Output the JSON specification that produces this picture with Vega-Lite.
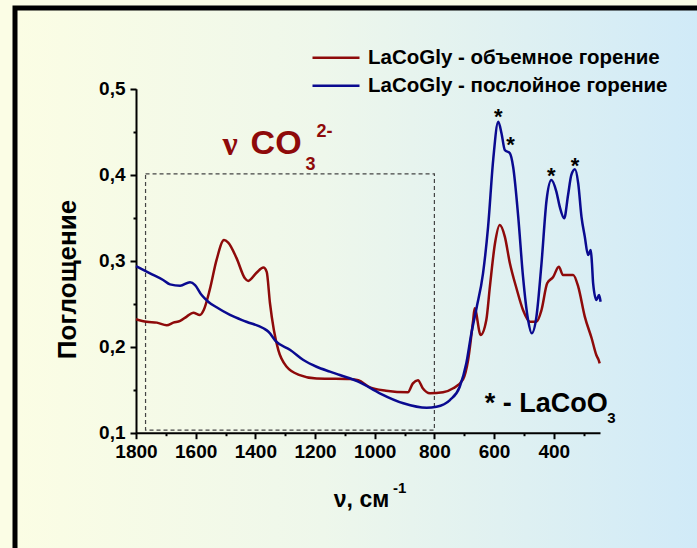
{
  "$schema": "https://vega.github.io/schema/vega-lite/v6.json",
  "width": 687,
  "height": 545,
  "autosize": {"type": "none"},
  "padding": {"left": 15, "top": 8, "right": -5, "bottom": -5},
  "background": "#fbfde5",
  "view": {
    "fill": {"gradient": "linear", "x1": 0, "y1": 0, "x2": 1, "y2": 0,
      "stops": [{"offset": 0, "color": "#fbfde4"}, {"offset": 0.45, "color": "#eef7eb"}, {"offset": 1, "color": "#d0eaf8"}]},
    "stroke": "black",
    "strokeWidth": 5
  },
  "config": {
    "font": "Liberation Sans",
    "axis": {
      "domainColor": "black", "domainWidth": 2, "tickColor": "black", "tickWidth": 2,
      "labelFont": "Liberation Sans", "labelFontWeight": "bold", "labelFontSize": 19, "labelColor": "black",
      "titleFont": "Liberation Sans", "titleFontWeight": "bold", "titleColor": "black", "grid": false,
      "labelOverlap": false, "labelFlush": false, "labelBound": false
    }
  },
  "encoding": {
    "x": {
      "field": "wavenumber", "type": "quantitative",
      "scale": {"domain": [1800, 245], "range": [121, 585], "nice": false, "zero": false},
      "axis": {
        "values": [1800, 1700, 1600, 1500, 1400, 1300, 1200, 1100, 1000, 900, 800, 700, 600, 500, 400, 300],
        "labelExpr": "datum.value % 200 === 0 ? format(datum.value, 'd') : ''",
        "tickSize": {"condition": {"test": "datum.value % 200 === 0", "value": 6}, "value": 3},
        "labelPadding": 4,
        "offset": -120.3,
        "title": "ν, см",
        "titleFontSize": 23,
        "titleX": 346,
        "titleY": 74,
        "titleAlign": "center",
        "titleBaseline": "alphabetic"
      }
    },
    "y": {
      "field": "absorbance", "type": "quantitative",
      "scale": {"domain": [0.1, 0.5], "range": [424.7, 80.7], "nice": false, "zero": false},
      "axis": {
        "values": [0.1, 0.15, 0.2, 0.25, 0.3, 0.35, 0.4, 0.45, 0.5],
        "labelExpr": "round(datum.value * 100) % 10 === 0 ? replace(format(datum.value, '.1f'), '.', ',') : ''",
        "tickSize": {"condition": {"test": "round(datum.value * 100) % 10 === 0", "value": 6}, "value": 3},
        "labelPadding": 5,
        "offset": -121,
        "title": "Поглощение",
        "titleFontSize": 26,
        "titleAngle": -90,
        "titleX": -61,
        "titleY": 271,
        "titleAlign": "center",
        "titleBaseline": "alphabetic"
      }
    }
  },
  "layer": [
    {
      "data": {"values": [{"wavenumber": 1768, "wavenumber2": 800, "absorbance": 0.103, "absorbance2": 0.401}]},
      "mark": {"type": "rect", "fill": null, "stroke": "#444444", "strokeWidth": 1.2, "strokeDash": [4, 3]},
      "encoding": {"x2": {"field": "wavenumber2"}, "y2": {"field": "absorbance2"}}
    },
    {
      "data": {"values": [
        {"sample": "LaCoGly - объемное горение", "wavenumber": 1800, "absorbance": 0.232},
        {"sample": "LaCoGly - объемное горение", "wavenumber": 1764, "absorbance": 0.229},
        {"sample": "LaCoGly - объемное горение", "wavenumber": 1730, "absorbance": 0.228},
        {"sample": "LaCoGly - объемное горение", "wavenumber": 1697, "absorbance": 0.225},
        {"sample": "LaCoGly - объемное горение", "wavenumber": 1675, "absorbance": 0.228},
        {"sample": "LaCoGly - объемное горение", "wavenumber": 1652, "absorbance": 0.23},
        {"sample": "LaCoGly - объемное горение", "wavenumber": 1630, "absorbance": 0.235},
        {"sample": "LaCoGly - объемное горение", "wavenumber": 1608, "absorbance": 0.2395},
        {"sample": "LaCoGly - объемное горение", "wavenumber": 1586, "absorbance": 0.237},
        {"sample": "LaCoGly - объемное горение", "wavenumber": 1573, "absorbance": 0.2427},
        {"sample": "LaCoGly - объемное горение", "wavenumber": 1553, "absorbance": 0.266},
        {"sample": "LaCoGly - объемное горение", "wavenumber": 1530, "absorbance": 0.301},
        {"sample": "LaCoGly - объемное горение", "wavenumber": 1505, "absorbance": 0.324},
        {"sample": "LaCoGly - объемное горение", "wavenumber": 1491, "absorbance": 0.321},
        {"sample": "LaCoGly - объемное горение", "wavenumber": 1463, "absorbance": 0.303},
        {"sample": "LaCoGly - объемное горение", "wavenumber": 1435, "absorbance": 0.2795},
        {"sample": "LaCoGly - объемное горение", "wavenumber": 1424, "absorbance": 0.2764},
        {"sample": "LaCoGly - объемное горение", "wavenumber": 1396, "absorbance": 0.286},
        {"sample": "LaCoGly - объемное горение", "wavenumber": 1373, "absorbance": 0.292},
        {"sample": "LaCoGly - объемное горение", "wavenumber": 1362, "absorbance": 0.287},
        {"sample": "LaCoGly - объемное горение", "wavenumber": 1351, "absorbance": 0.2505},
        {"sample": "LaCoGly - объемное горение", "wavenumber": 1338, "absorbance": 0.2194},
        {"sample": "LaCoGly - объемное горение", "wavenumber": 1323, "absorbance": 0.196},
        {"sample": "LaCoGly - объемное горение", "wavenumber": 1295, "absorbance": 0.1767},
        {"sample": "LaCoGly - объемное горение", "wavenumber": 1251, "absorbance": 0.167},
        {"sample": "LaCoGly - объемное горение", "wavenumber": 1195, "absorbance": 0.163},
        {"sample": "LaCoGly - объемное горение", "wavenumber": 1150, "absorbance": 0.1628},
        {"sample": "LaCoGly - объемное горение", "wavenumber": 1083, "absorbance": 0.1624},
        {"sample": "LaCoGly - объемное горение", "wavenumber": 1055, "absorbance": 0.161},
        {"sample": "LaCoGly - объемное горение", "wavenumber": 1016, "absorbance": 0.1528},
        {"sample": "LaCoGly - объемное горение", "wavenumber": 962, "absorbance": 0.1489},
        {"sample": "LaCoGly - объемное горение", "wavenumber": 889, "absorbance": 0.147},
        {"sample": "LaCoGly - объемное горение", "wavenumber": 872, "absorbance": 0.1574},
        {"sample": "LaCoGly - объемное горение", "wavenumber": 855, "absorbance": 0.161},
        {"sample": "LaCoGly - объемное горение", "wavenumber": 839, "absorbance": 0.1516},
        {"sample": "LaCoGly - объемное горение", "wavenumber": 815, "absorbance": 0.1458},
        {"sample": "LaCoGly - объемное горение", "wavenumber": 771, "absorbance": 0.147},
        {"sample": "LaCoGly - объемное горение", "wavenumber": 737, "absorbance": 0.1516},
        {"sample": "LaCoGly - объемное горение", "wavenumber": 704, "absorbance": 0.162},
        {"sample": "LaCoGly - объемное горение", "wavenumber": 687, "absorbance": 0.1845},
        {"sample": "LaCoGly - объемное горение", "wavenumber": 670, "absorbance": 0.231},
        {"sample": "LaCoGly - объемное горение", "wavenumber": 665, "absorbance": 0.2447},
        {"sample": "LaCoGly - объемное горение", "wavenumber": 645, "absorbance": 0.2136},
        {"sample": "LaCoGly - объемное горение", "wavenumber": 626, "absorbance": 0.231},
        {"sample": "LaCoGly - объемное горение", "wavenumber": 614, "absorbance": 0.2698},
        {"sample": "LaCoGly - объемное горение", "wavenumber": 597, "absorbance": 0.32},
        {"sample": "LaCoGly - объемное горение", "wavenumber": 581, "absorbance": 0.3415},
        {"sample": "LaCoGly - объемное горение", "wavenumber": 564, "absorbance": 0.328},
        {"sample": "LaCoGly - объемное горение", "wavenumber": 547, "absorbance": 0.297},
        {"sample": "LaCoGly - объемное горение", "wavenumber": 525, "absorbance": 0.268},
        {"sample": "LaCoGly - объемное горение", "wavenumber": 503, "absorbance": 0.2427},
        {"sample": "LaCoGly - объемное горение", "wavenumber": 480, "absorbance": 0.229},
        {"sample": "LaCoGly - объемное горение", "wavenumber": 458, "absorbance": 0.229},
        {"sample": "LaCoGly - объемное горение", "wavenumber": 441, "absorbance": 0.2427},
        {"sample": "LaCoGly - объемное горение", "wavenumber": 422, "absorbance": 0.2737},
        {"sample": "LaCoGly - объемное горение", "wavenumber": 402, "absorbance": 0.281},
        {"sample": "LaCoGly - объемное горение", "wavenumber": 383, "absorbance": 0.293},
        {"sample": "LaCoGly - объемное горение", "wavenumber": 369, "absorbance": 0.2834},
        {"sample": "LaCoGly - объемное горение", "wavenumber": 335, "absorbance": 0.2834},
        {"sample": "LaCoGly - объемное горение", "wavenumber": 318, "absorbance": 0.2698},
        {"sample": "LaCoGly - объемное горение", "wavenumber": 296, "absorbance": 0.235},
        {"sample": "LaCoGly - объемное горение", "wavenumber": 273, "absorbance": 0.2098},
        {"sample": "LaCoGly - объемное горение", "wavenumber": 257, "absorbance": 0.19},
        {"sample": "LaCoGly - объемное горение", "wavenumber": 250, "absorbance": 0.185},
        {"sample": "LaCoGly - объемное горение", "wavenumber": 246, "absorbance": 0.1807},
        {"sample": "LaCoGly - послойное горение", "wavenumber": 1800, "absorbance": 0.2938},
        {"sample": "LaCoGly - послойное горение", "wavenumber": 1753, "absorbance": 0.2853},
        {"sample": "LaCoGly - послойное горение", "wavenumber": 1709, "absorbance": 0.2776},
        {"sample": "LaCoGly - послойное горение", "wavenumber": 1686, "absorbance": 0.2725},
        {"sample": "LaCoGly - послойное горение", "wavenumber": 1652, "absorbance": 0.271},
        {"sample": "LaCoGly - послойное горение", "wavenumber": 1619, "absorbance": 0.275},
        {"sample": "LaCoGly - послойное горение", "wavenumber": 1602, "absorbance": 0.2717},
        {"sample": "LaCoGly - послойное горение", "wavenumber": 1580, "absorbance": 0.26},
        {"sample": "LaCoGly - послойное горение", "wavenumber": 1558, "absorbance": 0.2523},
        {"sample": "LaCoGly - послойное горение", "wavenumber": 1530, "absorbance": 0.2458},
        {"sample": "LaCoGly - послойное горение", "wavenumber": 1485, "absorbance": 0.2369},
        {"sample": "LaCoGly - послойное горение", "wavenumber": 1430, "absorbance": 0.229},
        {"sample": "LaCoGly - послойное горение", "wavenumber": 1373, "absorbance": 0.2214},
        {"sample": "LaCoGly - послойное горение", "wavenumber": 1356, "absorbance": 0.2174},
        {"sample": "LaCoGly - послойное горение", "wavenumber": 1330, "absorbance": 0.2058},
        {"sample": "LaCoGly - послойное горение", "wavenumber": 1283, "absorbance": 0.1962},
        {"sample": "LaCoGly - послойное горение", "wavenumber": 1239, "absorbance": 0.1845},
        {"sample": "LaCoGly - послойное горение", "wavenumber": 1195, "absorbance": 0.1767},
        {"sample": "LaCoGly - послойное горение", "wavenumber": 1150, "absorbance": 0.171},
        {"sample": "LaCoGly - послойное горение", "wavenumber": 1117, "absorbance": 0.1671},
        {"sample": "LaCoGly - послойное горение", "wavenumber": 1050, "absorbance": 0.1586},
        {"sample": "LaCoGly - послойное горение", "wavenumber": 983, "absorbance": 0.1458},
        {"sample": "LaCoGly - послойное горение", "wavenumber": 904, "absorbance": 0.1342},
        {"sample": "LaCoGly - послойное горение", "wavenumber": 826, "absorbance": 0.129},
        {"sample": "LaCoGly - послойное горение", "wavenumber": 793, "absorbance": 0.1302},
        {"sample": "LaCoGly - послойное горение", "wavenumber": 748, "absorbance": 0.138},
        {"sample": "LaCoGly - послойное горение", "wavenumber": 715, "absorbance": 0.1535},
        {"sample": "LaCoGly - послойное горение", "wavenumber": 693, "absorbance": 0.1807},
        {"sample": "LaCoGly - послойное горение", "wavenumber": 676, "absorbance": 0.2156},
        {"sample": "LaCoGly - послойное горение", "wavenumber": 659, "absorbance": 0.2445},
        {"sample": "LaCoGly - послойное горение", "wavenumber": 637, "absorbance": 0.2853},
        {"sample": "LaCoGly - послойное горение", "wavenumber": 620, "absorbance": 0.3395},
        {"sample": "LaCoGly - послойное горение", "wavenumber": 603, "absorbance": 0.417},
        {"sample": "LaCoGly - послойное горение", "wavenumber": 586, "absorbance": 0.4616},
        {"sample": "LaCoGly - послойное горение", "wavenumber": 575, "absorbance": 0.448},
        {"sample": "LaCoGly - послойное горение", "wavenumber": 564, "absorbance": 0.4287},
        {"sample": "LaCoGly - послойное горение", "wavenumber": 547, "absorbance": 0.425},
        {"sample": "LaCoGly - послойное горение", "wavenumber": 536, "absorbance": 0.409},
        {"sample": "LaCoGly - послойное горение", "wavenumber": 519, "absorbance": 0.351},
        {"sample": "LaCoGly - послойное горение", "wavenumber": 503, "absorbance": 0.2814},
        {"sample": "LaCoGly - послойное горение", "wavenumber": 486, "absorbance": 0.231},
        {"sample": "LaCoGly - послойное горение", "wavenumber": 474, "absorbance": 0.2156},
        {"sample": "LaCoGly - послойное горение", "wavenumber": 458, "absorbance": 0.235},
        {"sample": "LaCoGly - послойное горение", "wavenumber": 441, "absorbance": 0.297},
        {"sample": "LaCoGly - послойное горение", "wavenumber": 424, "absorbance": 0.3706},
        {"sample": "LaCoGly - послойное горение", "wavenumber": 408, "absorbance": 0.3938},
        {"sample": "LaCoGly - послойное горение", "wavenumber": 391, "absorbance": 0.38},
        {"sample": "LaCoGly - послойное горение", "wavenumber": 380, "absorbance": 0.3628},
        {"sample": "LaCoGly - послойное горение", "wavenumber": 365, "absorbance": 0.3493},
        {"sample": "LaCoGly - послойное горение", "wavenumber": 352, "absorbance": 0.3764},
        {"sample": "LaCoGly - послойное горение", "wavenumber": 341, "absorbance": 0.3997},
        {"sample": "LaCoGly - послойное горение", "wavenumber": 329, "absorbance": 0.4063},
        {"sample": "LaCoGly - послойное горение", "wavenumber": 318, "absorbance": 0.39},
        {"sample": "LaCoGly - послойное горение", "wavenumber": 307, "absorbance": 0.351},
        {"sample": "LaCoGly - послойное горение", "wavenumber": 296, "absorbance": 0.328},
        {"sample": "LaCoGly - послойное горение", "wavenumber": 285, "absorbance": 0.3066},
        {"sample": "LaCoGly - послойное горение", "wavenumber": 276, "absorbance": 0.3125},
        {"sample": "LaCoGly - послойное горение", "wavenumber": 272, "absorbance": 0.297},
        {"sample": "LaCoGly - послойное горение", "wavenumber": 268, "absorbance": 0.2737},
        {"sample": "LaCoGly - послойное горение", "wavenumber": 257, "absorbance": 0.2543},
        {"sample": "LaCoGly - послойное горение", "wavenumber": 248, "absorbance": 0.26},
        {"sample": "LaCoGly - послойное горение", "wavenumber": 243, "absorbance": 0.2523}
      ]},
      "mark": {"type": "line", "strokeWidth": 2.5, "interpolate": "monotone"},
      "encoding": {
        "color": {
          "field": "sample", "type": "nominal",
          "scale": {"domain": ["LaCoGly - объемное горение", "LaCoGly - послойное горение"], "range": ["#8e0a0a", "#0a0a90"]},
          "legend": {
            "orient": "none", "legendX": 296, "legendY": 37, "title": null,
            "symbolType": "stroke", "symbolSize": 2209, "symbolStrokeWidth": 2.5,
            "labelFont": "Liberation Sans", "labelFontWeight": "bold", "labelFontSize": 20.5, "labelColor": "black",
            "clipHeight": 25.7, "rowPadding": 2, "labelOffset": 7, "labelLimit": 400, "padding": 0
          }
        }
      }
    },
    {
      "data": {"values": [
        {"wavenumber": 586, "absorbance": 0.4585, "text": "*"},
        {"wavenumber": 545, "absorbance": 0.4267, "text": "*"},
        {"wavenumber": 408, "absorbance": 0.3907, "text": "*"},
        {"wavenumber": 329, "absorbance": 0.4023, "text": "*"}
      ]},
      "mark": {"type": "text", "font": "Liberation Sans", "fontWeight": "bold", "fontSize": 22, "color": "black", "align": "center", "baseline": "alphabetic"},
      "encoding": {"text": {"field": "text"}}
    },
    {
      "data": {"values": [{"wavenumber": 1510, "absorbance": 0.4229, "text": "ν"}]},
      "mark": {"type": "text", "font": "Liberation Serif", "fontWeight": "bold", "fontSize": 34, "color": "#8e0a0a", "align": "left", "baseline": "alphabetic"},
      "encoding": {"text": {"field": "text"}}
    },
    {
      "data": {"values": [{"wavenumber": 1416, "absorbance": 0.4241, "text": "CO"}]},
      "mark": {"type": "text", "font": "Liberation Sans", "fontWeight": "bold", "fontSize": 34, "color": "#8e0a0a", "align": "left", "baseline": "alphabetic"},
      "encoding": {"text": {"field": "text"}}
    },
    {
      "data": {"values": [
        {"wavenumber": 1232, "absorbance": 0.4055, "text": "3"},
        {"wavenumber": 1195, "absorbance": 0.4438, "text": "2-"}
      ]},
      "mark": {"type": "text", "font": "Liberation Sans", "fontWeight": "bold", "fontSize": 18, "color": "#8e0a0a", "align": "left", "baseline": "alphabetic"},
      "encoding": {"text": {"field": "text"}}
    },
    {
      "data": {"values": [{"wavenumber": 631, "absorbance": 0.1244, "text": "* - LaCoO"}]},
      "mark": {"type": "text", "font": "Liberation Sans", "fontWeight": "bold", "fontSize": 27, "color": "black", "align": "left", "baseline": "alphabetic"},
      "encoding": {"text": {"field": "text"}}
    },
    {
      "data": {"values": [
        {"wavenumber": 221, "absorbance": 0.1116, "text": "3"},
        {"wavenumber": 939, "absorbance": 0.0299, "text": "-1"}
      ]},
      "mark": {"type": "text", "font": "Liberation Sans", "fontWeight": "bold", "fontSize": 15, "color": "black", "align": "left", "baseline": "alphabetic"},
      "encoding": {"text": {"field": "text"}}
    }
  ]
}
